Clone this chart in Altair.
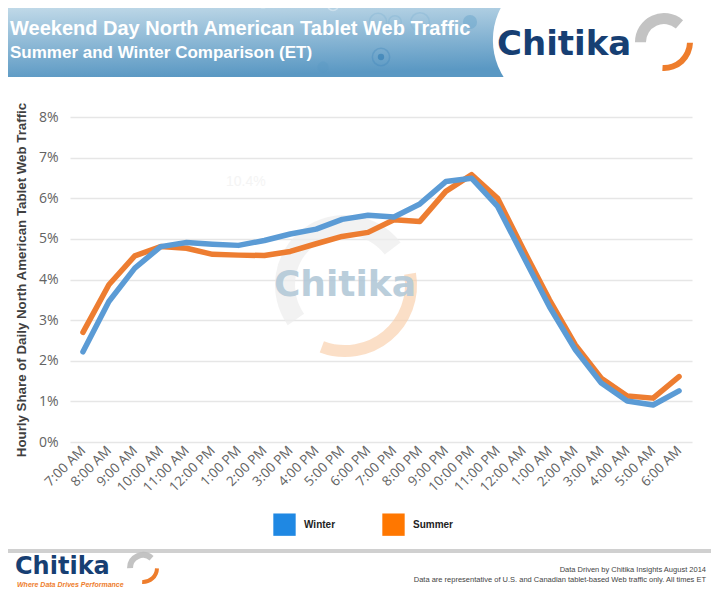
import altair as alt
import pandas as pd

hours = ["7:00 AM", "8:00 AM", "9:00 AM", "10:00 AM", "11:00 AM", "12:00 PM",
         "1:00 PM", "2:00 PM", "3:00 PM", "4:00 PM", "5:00 PM", "6:00 PM",
         "7:00 PM", "8:00 PM", "9:00 PM", "10:00 PM", "11:00 PM", "12:00 AM",
         "1:00 AM", "2:00 AM", "3:00 AM", "4:00 AM", "5:00 AM", "6:00 AM"]
winter = [2.22, 3.46, 4.28, 4.81, 4.91, 4.87, 4.84, 4.96, 5.12, 5.24, 5.48, 5.58,
          5.54, 5.86, 6.41, 6.49, 5.80, 4.56, 3.33, 2.27, 1.45, 1.01, 0.91, 1.26]
summer = [2.70, 3.87, 4.58, 4.81, 4.77, 4.62, 4.60, 4.59, 4.69, 4.88, 5.06, 5.16,
          5.47, 5.43, 6.17, 6.58, 6.00, 4.73, 3.50, 2.39, 1.57, 1.13, 1.08, 1.61]
series = ["Winter", "Summer"]
line_colors = ["#5b9bd5", "#ed7d31"]
legend_colors = ["#1f88e3", "#ff7700"]
y_ticks = [0, 0.01, 0.02, 0.03, 0.04, 0.05, 0.06, 0.07, 0.08]

rows = []
for name, vals in (("Summer", summer), ("Winter", winter)):
    for i, (h, v) in enumerate(zip(hours, vals)):
        rows.append({"hour": h, "share": v / 100.0, "series": name, "order": 0 if name == "Summer" else 1})
df = pd.DataFrame(rows)

# plot origin on the page
OX, OY = 70, 117
W, H = 622, 325
TOTAL_W = 703
TOTAL_H = 581


def px(x):
    return x - OX


def py(y):
    return y - OY


one = pd.DataFrame({"a": [0]})


def rect(x1, y1, x2, y2, color, opacity=1.0):
    return alt.Chart(one).mark_rect(color=color, opacity=opacity).encode(
        x=alt.value(px(x1)), x2=alt.value(px(x2)), y=alt.value(py(y1)), y2=alt.value(py(y2)))


def text(t, x, y, size, color, weight="normal", font="Liberation Sans", align="left",
         style="normal", opacity=1.0):
    return alt.Chart(one).mark_text(text=t, fontSize=size, color=color, fontWeight=weight, font=font,
                                    align=align, baseline="alphabetic", fontStyle=style,
                                    opacity=opacity).encode(
        x=alt.value(px(x)), y=alt.value(py(y)))


def arc(cx, cy, r1, r2, t1, t2, color, opacity=1.0):
    return alt.Chart(one).mark_arc(color=color, opacity=opacity, radius=r2, radius2=r1,
                                   theta=t1, theta2=t2).encode(
        x=alt.value(px(cx)), y=alt.value(py(cy)))


def ring(cx, cy, size, color, opacity, filled=False):
    return alt.Chart(one).mark_point(shape="circle", size=size, color=color, filled=filled,
                                     opacity=opacity, strokeWidth=1.5).encode(
        x=alt.value(px(cx)), y=alt.value(py(cy)))


# header banner with gradient
banner = alt.Chart(one).mark_rect(
    color=alt.Gradient(gradient="linear", x1=0, y1=0, x2=0.25, y2=1,
                       stops=[alt.GradientStop(color="#cbe0ec", offset=0),
                              alt.GradientStop(color="#5a98c3", offset=1)])
).encode(x=alt.value(px(0)), x2=alt.value(px(719)), y=alt.value(py(0)), y2=alt.value(py(77)))

deco_header = [
    banner,
    ring(333, 5, 120, "#ffffff", 0.35),
    ring(378, 22, 300, "#7fb3d3", 0.35),
    ring(395, 22, 160, "#7fb3d3", 0.35),
    ring(420, 22, 350, "#7fb3d3", 0.35),
    ring(470, 22, 200, "#6aa6cc", 0.5, True),
    ring(381, 57, 300, "#3f86bb", 0.35),
    ring(381, 57, 40, "#2f7bb3", 0.6, True),
    ring(323, 67, 120, "#5a98c3", 0.35, True),
    ring(263, 5, 60, "#d0e4ef", 0.6, True),
    alt.Chart(one).mark_circle(color="white", size=3.1416 * 78 * 78, opacity=1).encode(
        x=alt.value(px(562)), y=alt.value(py(40))),
    rect(562, 0, 719, 78, "white"),
    text("Weekend Day North American Tablet Web Traffic", 10, 35, 20, "white", "bold"),
    text("Summer and Winter Comparison (ET)", 10, 58, 17, "white", "bold"),
    text("Chitika", 497, 55, 34, "#173f73", "bold", font="DejaVu Sans"),
    arc(664, 42, 18, 29, 4.7, 7.0, "#bdbdbd", 0.9),
    arc(664, 42, 23, 29, 1.6, 3.2, "#ee7d2c", 1.0),
]

deco_watermark = [
    arc(345, 285, 50, 70, 4.1, 7.2, "#ececec", 0.7),
    arc(345, 285, 60, 72, 1.4, 3.5, "#f9c9a2", 0.6),
    text("Chitika", 345, 296, 36, "#b3c9d8", "bold", font="DejaVu Sans", align="center", opacity=0.9),
    text("10.4%", 226, 186, 14, "#f4f4f4"),
]

deco_footer = [
    rect(0, 549, 719, 553, "#d0d0d0"),
    text("Chitika", 15, 574, 24, "#173f73", "bold", font="DejaVu Sans"),
    arc(143, 568, 10, 16, 4.7, 7.0, "#bdbdbd", 0.9),
    arc(143, 568, 12, 16, 1.6, 3.2, "#ee7d2c", 1.0),
    text("Where Data Drives Performance", 17, 587, 7, "#ee7d2c", "bold", style="italic"),
    text("Data Driven by Chitika Insights August 2014", 706, 572, 7.5, "#444444", align="right"),
    text("Data are representative of U.S. and Canadian tablet-based Web traffic only. All times ET",
         706, 582, 7.5, "#444444", align="right"),
]

xenc = alt.X("hour:N", sort=hours, title=None,
             scale=alt.Scale(type="point", padding=0.5),
             axis=alt.Axis(labelAngle=315, labelAlign="right", labelBaseline="middle",
                           labelFont="Open Sans", labelFontSize=13.5, labelColor="#636363",
                           labelPadding=6, ticks=False, domain=False, grid=False,
                           labelOverlap=False))
yenc = alt.Y("share:Q", title="Hourly Share of Daily North American Tablet Web Traffic",
             scale=alt.Scale(domain=[0, 0.08], nice=False),
             axis=alt.Axis(values=y_ticks, format=".0%", labelFont="Open Sans", labelFontSize=14,
                           labelColor="#636363", labelPadding=12, ticks=False, domain=False,
                           gridColor="#e6e6e6", gridWidth=1.5,
                           titleFont="Liberation Sans", titleFontSize=13.3, titleFontWeight="bold",
                           titleColor="#404040", titlePadding=10))

lines = alt.Chart(df).mark_line(strokeWidth=5.5, strokeCap="round", strokeJoin="round").encode(
    x=xenc, y=yenc,
    stroke=alt.Stroke("series:N", scale=alt.Scale(domain=series, range=line_colors), legend=None),
    detail="series:N",
    order=alt.Order("order:Q"),
)

legend_layer = alt.Chart(df).mark_square(opacity=0).encode(
    x=alt.X("hour:N", sort=hours), y=alt.Y("share:Q"),
    fill=alt.Fill("series:N", scale=alt.Scale(domain=series, range=legend_colors),
                  legend=alt.Legend(title=None, orient="none", legendX=px(273), legendY=py(513),
                                    direction="horizontal", symbolType="square", symbolSize=500,
                                    symbolOpacity=1, symbolStrokeWidth=0,
                                    labelFont="Liberation Sans", labelFontSize=10,
                                    labelFontWeight="bold", labelColor="#222222",
                                    labelOffset=8, columnPadding=46)),
)

chart = alt.layer(*deco_header, *deco_watermark, lines, legend_layer, *deco_footer).properties(
    width=W, height=H,
    autosize=alt.AutoSizeParams(type="none"),
    padding={"left": OX - 8, "top": OY - 8, "right": TOTAL_W - (OX - 8) - W,
             "bottom": TOTAL_H - (OY - 8) - H},
    background="white",
).resolve_scale(fill="independent", stroke="independent").configure_view(stroke=None)

chart.save("out.html", embed_options={"renderer": "svg", "actions": False})
